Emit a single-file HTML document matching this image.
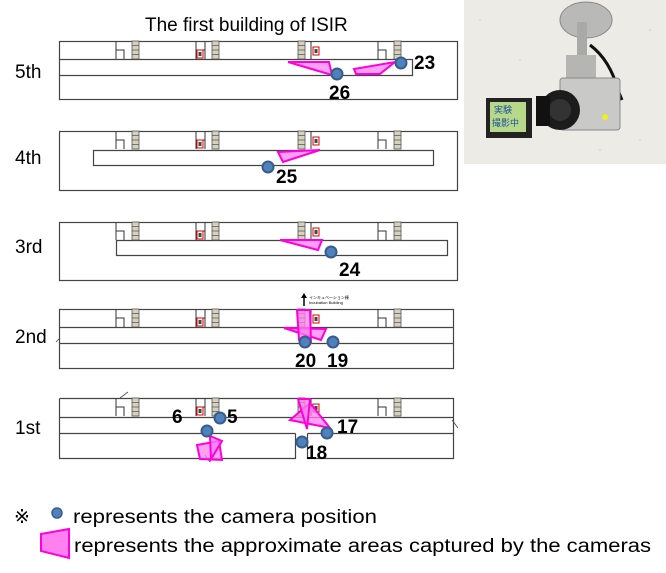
<!DOCTYPE html>
<html><head><meta charset="utf-8"><style>
html,body{margin:0;padding:0;background:#fff;width:666px;height:573px;overflow:hidden}
svg{display:block}
text{font-family:"Liberation Sans",sans-serif}
</style></head><body>
<svg width="666" height="573" viewBox="0 0 666 573" xmlns="http://www.w3.org/2000/svg">
<defs>
<g id="st"><rect x="0" y="0" width="7" height="18" fill="#d6d1bd" stroke="#555" stroke-width="0.8"/><path d="M0 4.5H7M0 9H7M0 13.5H7" stroke="#555" stroke-width="0.8"/></g>
<g id="el"><rect x="0" y="0" width="6" height="8" fill="#fff" stroke="#d00" stroke-width="1"/><rect x="1.5" y="2" width="3" height="4" fill="#444"/></g>
<g id="rooms">
<path d="M116 0V18M116 9H124V18M196 0V18M205 0V18M196 9H205M311 0V18M378 0V18M378 9H386V18" stroke="#333" stroke-width="1" fill="none"/>
<use href="#st" x="132" y="0"/><use href="#st" x="212" y="0"/><use href="#st" x="298" y="0"/><use href="#st" x="394" y="0"/>
<use href="#el" x="197" y="9"/><use href="#el" x="313" y="6"/>
</g>
</defs>
<g fill="none" stroke="#444" stroke-width="1.2">
<!-- 5th -->
<rect x="59.5" y="41.5" width="398" height="58"/>
<path d="M59.5 59.5H412.5V75.5H59.5"/>
<!-- 4th -->
<rect x="59.5" y="131.5" width="398" height="59"/>
<path d="M93.5 150.5H433.5V165.5H93.5Z"/>
<!-- 3rd -->
<rect x="59.5" y="222.5" width="398" height="58"/>
<path d="M116.5 240.5H447.5V255.5H116.5Z"/>
<!-- 2nd -->
<rect x="59.5" y="309.5" width="394" height="59"/>
<path d="M59.5 327.5H453.5M59.5 343.5H453.5"/>
<!-- 1st -->
<path d="M59.5 398.5H453.5V458.5H307.5V433.5M59.5 398.5V458.5H295.5V433.5M59.5 417.5H453.5M59.5 433.5H295.5M307.5 433.5H453.5"/>
</g>
<use href="#rooms" y="41"/>
<use href="#rooms" y="131"/>
<use href="#rooms" y="222"/>
<use href="#rooms" y="309"/>
<use href="#rooms" y="398"/>
<path d="M304 306V296" stroke="#000" stroke-width="1.5"/><path d="M301 298L304 293L307 298Z"/>
<text x="309" y="299" font-size="4">インキュベーション棟</text><text x="309" y="304" font-size="4">Incubation Building</text>
<path d="M120 398L128 392M452 420L458 428M56 342L60 338M205 455L210 462" stroke="#444" stroke-width="0.8"/>
<text x="145" y="31" font-size="19">The first building of ISIR</text>
<g font-size="19"><text x="15" y="78">5th</text><text x="15" y="164">4th</text><text x="15" y="253">3rd</text><text x="15" y="343">2nd</text><text x="15" y="434">1st</text></g>
<!-- pink areas -->
<g fill="#ff80ee" stroke="#ff00dd" stroke-width="2" fill-opacity="0.75">
<path d="M288 62L329 62L332 75Z"/>
<path d="M354 69L395 62L380 74L356 74Z"/>
<path d="M278 152L320 150L283 162Z"/>
<path d="M280 240L322 240L318 250Z"/>
<path d="M284 328L326 329L321 340Z"/>
<path d="M297 310L310 310L311 343L299 340Z"/>
<path d="M290 420L310 403L330 428Z"/>
<path d="M298 399L310 399L307 429Z"/>
<path d="M197 445L219 441L222 460L200 459Z"/>
<path d="M210 436L222 441L211 459Z"/>
</g>
<!-- dots -->
<g fill="#4f81bd" stroke="#385d8a" stroke-width="2">
<circle cx="337" cy="74" r="5.5"/><circle cx="401" cy="63" r="5.5"/>
<circle cx="268" cy="167" r="5.5"/>
<circle cx="331" cy="252" r="5.5"/>
<circle cx="305" cy="342" r="5.5"/><circle cx="333" cy="342" r="5.5"/>
<circle cx="220" cy="418" r="5.5"/><circle cx="207" cy="431" r="5.5"/>
<circle cx="327" cy="433" r="5.5"/><circle cx="302" cy="442" r="5.5"/>
</g>
<g font-size="19" font-weight="bold">
<text x="329" y="99">26</text><text x="414" y="69">23</text>
<text x="276" y="183">25</text><text x="339" y="276">24</text>
<text x="295" y="367">20</text><text x="327" y="367">19</text>
<text x="172" y="423">6</text><text x="227" y="423">5</text>
<text x="337" y="433">17</text><text x="306" y="459">18</text>
</g>
<!-- legend -->
<text x="14" y="523" font-size="19">※</text>
<circle cx="57" cy="513" r="5" fill="#4f81bd" stroke="#385d8a" stroke-width="1.5"/>
<text x="73" y="523" font-size="19" textLength="304" lengthAdjust="spacingAndGlyphs">represents the camera position</text>
<path d="M41 534L69 529V558L41 551Z" fill="#ff80ee" stroke="#ff00dd" stroke-width="2"/>
<text x="74" y="552" font-size="19" textLength="577" lengthAdjust="spacingAndGlyphs">represents the approximate areas captured by the cameras</text>
<!-- photo -->
<rect x="464" y="0" width="202" height="164" fill="#ecebe6"/>
<g fill="#c8c8c6" opacity="0.6"><circle cx="480" cy="20" r="1"/><circle cx="520" cy="60" r="1"/><circle cx="500" cy="130" r="1"/><circle cx="640" cy="140" r="1"/><circle cx="650" cy="30" r="1"/><circle cx="600" cy="150" r="1"/></g>
<ellipse cx="586" cy="20" rx="26" ry="18" fill="#b9bab8" stroke="#888"/>
<rect x="577" y="22" width="10" height="36" fill="#a9aaa8"/>
<path d="M590 45Q610 60 618 90L622 100" stroke="#111" stroke-width="3" fill="none"/>
<rect x="566" y="55" width="30" height="30" fill="#b5b6b4"/>
<rect x="560" y="78" width="60" height="52" rx="3" fill="#c9cac8" stroke="#888"/>
<circle cx="560" cy="110" r="20" fill="#1c1c1c"/>
<circle cx="560" cy="110" r="11" fill="#333"/>
<rect x="536" y="96" width="14" height="30" fill="#111"/>
<rect x="486" y="98" width="46" height="40" fill="#222"/>
<rect x="490" y="102" width="36" height="30" fill="#b7d889"/>
<text x="494" y="113" font-size="9" fill="#2050a0" font-family="Noto Sans CJK JP,sans-serif">実験</text>
<text x="492" y="126" font-size="9" fill="#2050a0" font-family="Noto Sans CJK JP,sans-serif">撮影中</text>
<circle cx="605" cy="117" r="3" fill="#ee2"/>
</svg>
</body></html>
